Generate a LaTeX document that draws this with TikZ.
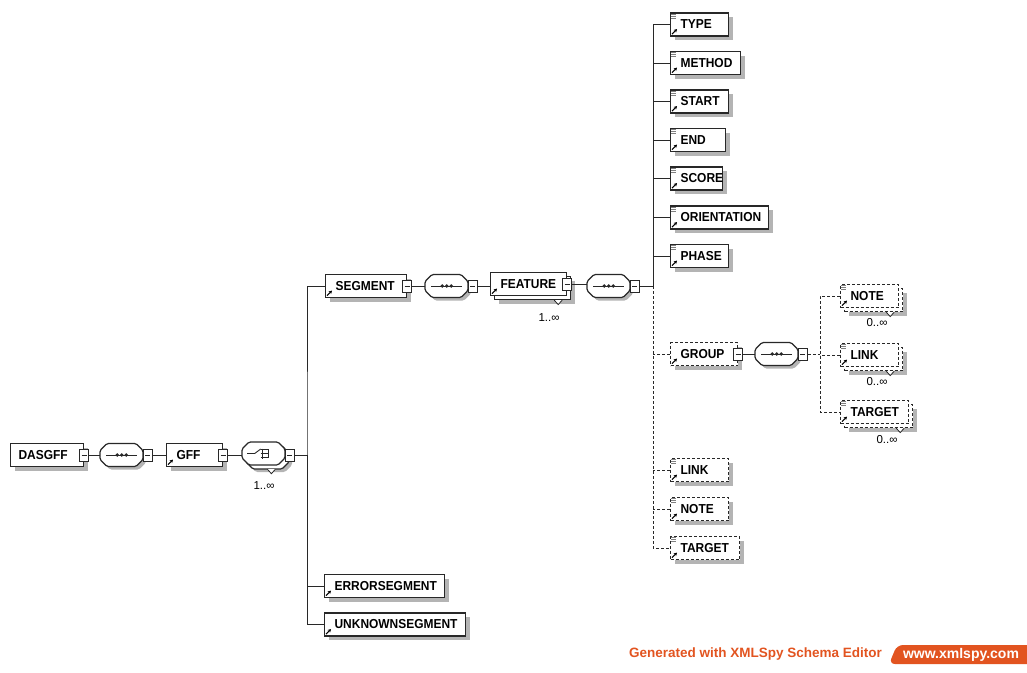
\documentclass[tikz,border=0pt]{standalone}
\usepackage{fontspec}
\setmainfont{Liberation Sans}
\newfontfamily\elemfont[FakeStretch=0.92]{Liberation Sans}
\usetikzlibrary{shadows,arrows.meta}
\definecolor{linec}{RGB}{40,40,40}
\definecolor{shadowc}{RGB}{180,180,180}
\definecolor{xorange}{RGB}{226,84,32}
\tikzset{
  dsh/.style={dash pattern=on 3pt off 2pt},
  conn/.style={draw=linec, line width=1pt},
  base/.style={draw=linec, line width=1.2pt, fill=white, inner xsep=0pt, inner ysep=0pt,
    minimum height=23pt, align=left, anchor=west,
    font=\elemfont\bfseries\fontsize{13}{15}\selectfont,
    execute at begin node={\hspace*{10pt}}},
  el/.style={base, text width=#1,
    drop shadow={shadow xshift=4pt, shadow yshift=-4pt, fill=shadowc, opacity=1}},
  optel/.style={base, dsh, text width=#1,
    drop shadow={shadow xshift=4pt, shadow yshift=-4pt, fill=shadowc, opacity=1}},
  multi/.style={base, text width=#1,
    drop shadow={shadow xshift=8pt, shadow yshift=-8pt, fill=shadowc, opacity=1},
    copy shadow={shadow xshift=4pt, shadow yshift=-4pt, draw=linec, fill=white, line width=1.2pt}},
  optmulti/.style={base, dsh, text width=#1,
    drop shadow={shadow xshift=8pt, shadow yshift=-8pt, fill=shadowc, opacity=1},
    copy shadow={shadow xshift=4pt, shadow yshift=-4pt, draw=linec, fill=white, line width=1.2pt, dsh}},
  octa/.style={draw=linec, line width=1.2pt, fill=white, rounded corners=1.5pt},
  octshadow/.style={fill=shadowc, rounded corners=1.5pt},
  compnode/.style={rectangle, draw=none, minimum width=43pt, minimum height=23pt, inner sep=0pt, anchor=west},
  minus/.style={draw=linec, fill=white, line width=0.8pt, minimum width=9pt, minimum height=12pt,
    inner sep=0pt,
    path picture={\draw[linec, line width=0.8pt] ([xshift=2pt]path picture bounding box.west) -- ([xshift=-2pt]path picture bounding box.east);}},
  lbl/.style={inner sep=0pt, font=\fontsize{11.5}{13}\selectfont},
  refarr/.style={line width=1.2pt, draw=black, -{Stealth[length=3.2pt,width=3.6pt]}},
  simp/.style={draw=gray, line width=0.6pt},
}
\newcommand\octdraw[3]{\path[#1] (#2+7,#3-11.5) -- (#2+36,#3-11.5) -- (#2+43,#3-4.5) -- (#2+43,#3+4.5) -- (#2+36,#3+11.5) -- (#2+7,#3+11.5) -- (#2,#3+4.5) -- (#2,#3-4.5) -- cycle;}
\newcommand\compo[3]{%
  \octdraw{octshadow}{#2+3}{#3+3}
  \octdraw{octa}{#2}{#3}
  \node[compnode] (#1) at (#2,#3) {};}
\newcommand\compomulti[3]{%
  \octdraw{octshadow}{#2+7}{#3+7}
  \octdraw{octa}{#2+4}{#3+4}
  \octdraw{octa}{#2}{#3}
  \node[compnode] (#1) at (#2,#3) {};}
\newcommand\refmark[1]{\draw[refarr] ([shift={(2pt,2.5pt)}]#1.south west) -- ++(5pt,5pt);}
\newcommand\simplemark[1]{\foreach \k in {1.5,3.5,5.5}{\draw[simp] ([shift={(1pt,-\k pt)}]#1.north west) -- ++(5pt,0pt);}}
\newcommand\notch[2]{\draw[linec, line width=0.8pt, fill=white] ([shift={(#2)}]#1.south east) -- ++(4pt,-4.5pt) -- ++(4pt,4.5pt);}
\newcommand\seqsym[1]{\draw[linec, line width=1pt] ([xshift=6pt]#1.west) -- ([xshift=-6pt]#1.east);
  \foreach \d in {-4.5,0,4.5}{\fill[linec] ([xshift=\d pt]#1.center) circle (1.9pt);}}
\newcommand\chsym[1]{%
  \draw[linec, line width=0.9pt] ([xshift=5pt]#1.west) -- ([xshift=-9pt]#1.center) -- ([shift={(-3pt,4.5pt)}]#1.center);
  \draw[linec, line width=0.9pt] ([shift={(-1pt,5pt)}]#1.center) -- ([shift={(-1pt,-5pt)}]#1.center);
  \foreach \d in {4,0,-4}{\draw[linec, line width=0.9pt] ([shift={(-3pt,\d pt)}]#1.center) -- ([shift={(5pt,\d pt)}]#1.center);}
  \draw[linec, line width=0.6pt] ([shift={(5pt,4pt)}]#1.center) -- ([shift={(5pt,-4pt)}]#1.center);}
\begin{document}
\begin{tikzpicture}[x=1pt,y=-1pt]
\useasboundingbox (0,0) rectangle (1027,672);

% ---- root chain
\node[el=73pt, execute at begin node={\hspace*{-2pt}}] (dasgff) at (10,455) {DASGFF};
\node[minus] (dasgff-m) at (dasgff.east) {};
\compo{s1}{100}{455}
\node[minus] (s1-m) at ([xshift=4.5pt]s1.east) {};
\node[el=56pt] (gff) at (166,455) {GFF};
\node[minus] (gff-m) at (gff.east) {};
\compomulti{ch}{242}{453.5}
\node[minus] (ch-m) at ([shift={(4.5pt,-1.5pt)}]ch.east) {};
\node[lbl] (ch-l) at (264,486) {1..∞};
\coordinate (bus1) at (307,455);

% ---- segment branch
\node[el=81pt] (seg) at (325,286) {SEGMENT};
\node[minus] (seg-m) at (seg.east) {};
\compo{s2}{425}{286}
\node[minus] (s2-m) at ([xshift=4.5pt]s2.east) {};
\node[multi=76pt] (feat) at (490,284) {FEATURE};
\node[minus] (feat-m) at (feat.east) {};
\node[lbl] (feat-l) at (549,318) {1..∞};
\compo{s3}{587}{286}
\node[minus] (s3-m) at ([xshift=4.5pt]s3.east) {};
\coordinate (bus2) at (653,286);

\node[el=58pt] (type) at (670,24.5) {TYPE};
\node[el=70pt] (method) at (670,63) {METHOD};
\node[el=58pt] (start) at (670,101.5) {START};
\node[el=55pt] (endel) at (670,140) {END};
\node[el=52pt] (score) at (670,178.5) {SCORE};
\node[el=98pt] (orient) at (670,217.5) {ORIENTATION};
\node[el=58pt] (phase) at (670,256) {PHASE};

\node[optel=67pt] (group) at (670,354) {GROUP};
\node[minus] (group-m) at (group.east) {};
\compo{s4}{755}{354}
\node[minus] (s4-m) at ([xshift=4.5pt]s4.east) {};
\coordinate (bus3) at (820,354);
\node[optmulti=58pt] (note2) at (840,296) {NOTE};
\node[optmulti=58pt] (link2) at (840,355) {LINK};
\node[optmulti=68pt] (target2) at (840,412) {TARGET};
\node[lbl] (note2-l) at (877,323) {0..∞};
\node[lbl] (link2-l) at (877,382) {0..∞};
\node[lbl] (target2-l) at (887,440) {0..∞};

\node[optel=58pt] (link) at (670,470) {LINK};
\node[optel=58pt] (note) at (670,509) {NOTE};
\node[optel=69pt] (target) at (670,548) {TARGET};

\node[el=120pt] (err) at (324,586) {ERRORSEGMENT};
\node[el=141pt] (unk) at (324,624.5) {UNKNOWNSEGMENT};

% ---- compositor symbols
\seqsym{s1}\seqsym{s2}\seqsym{s3}\seqsym{s4}
\chsym{ch}

% ---- icons
\foreach \n in {gff,seg,feat,type,method,start,endel,score,orient,phase,group,note2,link2,target2,link,note,target,err,unk}{\refmark{\n}}
\foreach \n in {type,method,start,endel,score,orient,phase,note2,link2,target2,link,note,target}{\simplemark{\n}}
\notch{ch}{-18pt,-4pt}
\notch{feat}{-13pt,-4pt}
\notch{note2}{-13pt,-4pt}
\notch{link2}{-13pt,-4pt}
\notch{target2}{-13pt,-4pt}

% ---- connectors
\draw[conn] (dasgff-m.east) -- (s1.west);
\draw[conn] (s1-m.east) -- (gff.west);
\draw[conn] (gff-m.east) -- (gff-m.east -| ch.west);
\draw[conn] (ch-m.east) -- (bus1);
\draw[conn] (seg.west) -| (bus1) |- (unk.west);
\draw[conn] (err.west) -| (bus1);

\draw[conn] (seg-m.east) -- (s2.west);
\draw[conn] (s2-m.east) -- (s2-m.east -| feat.west);
\draw[conn] (feat-m.east) -- (feat-m.east -| s3.west);
\draw[conn] (s3-m.east) -- (bus2);
\foreach \n in {type,method,start,endel,score,orient,phase}{\draw[conn] (\n.west) -| (bus2);}
\draw[conn,dsh] (bus2) |- (target.west);
\foreach \n in {group,link,note}{\draw[conn,dsh] (\n.west) -- (\n.west -| bus2);}

\draw[conn] (group-m.east) -- (s4.west);
\draw[conn,dsh] (s4-m.east) -- (bus3);
\draw[conn,dsh] (note2.west) -| (bus3) |- (target2.west);
\draw[conn,dsh] (link2.west) -- (link2.west -| bus3);

% ---- footer
\node[anchor=east, text=xorange, inner sep=0pt, font=\bfseries\fontsize{13.5}{16}\selectfont] (gen) at (882,654) {Generated with XMLSpy Schema Editor};
\fill[xorange, rounded corners=6pt] (1040,645) -- (897,645) -- (889,664) -- (1040,664) -- cycle;
\node[text=white, inner sep=0pt, font=\bfseries\fontsize{14}{16}\selectfont] (web) at (961,654.5) {www.xmlspy.com};
\end{tikzpicture}
\end{document}
